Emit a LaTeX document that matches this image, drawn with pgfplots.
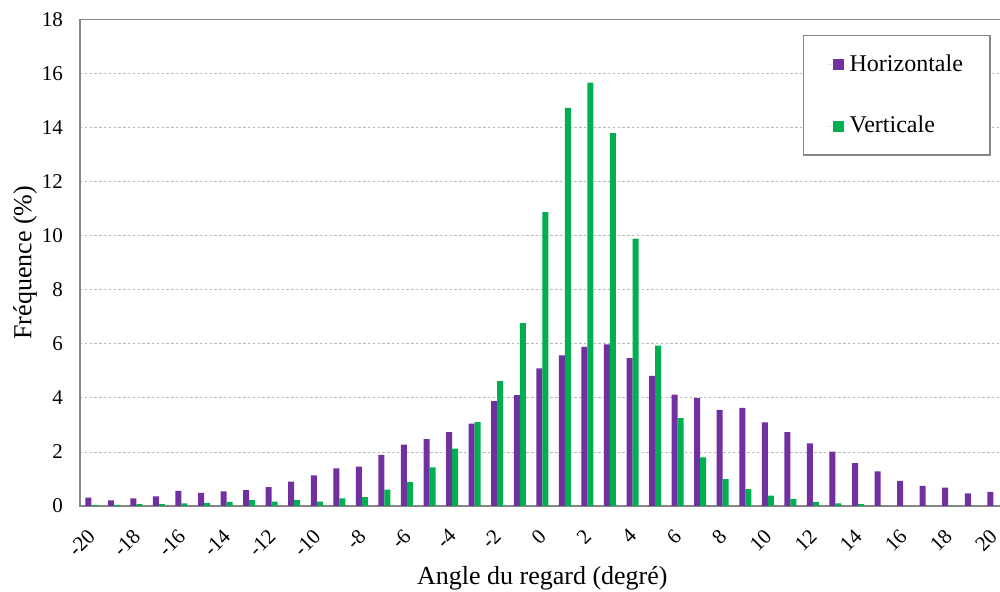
\documentclass[border=0pt]{standalone}
\usepackage{pgfplots}
\pgfplotsset{compat=1.18}
\usepackage{pgfplotstable}
\usepackage{fontspec}
\setmainfont{Liberation Serif}

\definecolor{horiz}{HTML}{7030A0}
\definecolor{vert}{HTML}{00B050}
\definecolor{axisgray}{HTML}{868686}

% angle, horizontale, verticale (%)
\pgfplotstableread{
x   h     v
-20 0.31  0.04
-19 0.21  0.04
-18 0.28  0.07
-17 0.36  0.07
-16 0.56  0.10
-15 0.49  0.12
-14 0.54  0.15
-13 0.59  0.22
-12 0.70  0.16
-11 0.90  0.23
-10 1.13  0.16
-9  1.39  0.28
-8  1.46  0.33
-7  1.89  0.61
-6  2.27  0.88
-5  2.47  1.43
-4  2.73  2.12
-3  3.05  3.10
-2  3.88  4.62
-1  4.10  6.77
0   5.09  10.87
1   5.57  14.73
2   5.89  15.66
3   5.98  13.80
4   5.47  9.89
5   4.81  5.93
6   4.12  3.25
7   3.99  1.80
8   3.56  0.99
9   3.63  0.62
10  3.09  0.38
11  2.73  0.26
12  2.32  0.15
13  2.01  0.10
14  1.59  0.07
15  1.28  0.01
16  0.93  0
17  0.74  0
18  0.68  0
19  0.47  0
20  0.52  0
}\gaze

\begin{document}
\begin{tikzpicture}
\useasboundingbox (0,0) rectangle (500pt,296pt);
\begin{axis}[
    at={(40pt,43pt)}, anchor=south west,
    scale only axis,
    width=462.3pt, height=243.25pt,
    ybar=0pt, bar width=3pt,
    xmin=-20.5, xmax=20.5,
    ymin=0, ymax=18,
    xtick={-20,-18,...,20},
    ytick={0,2,...,18},
    major tick length=0pt,
    axis line style={axisgray, line width=0.8pt},
    ymajorgrids,
    major grid style={axisgray!60, dash pattern=on 1.2pt off 1.2pt, line width=0.4pt},
    /pgf/number format/assume math mode=true,
    tick label style={font=\fontsize{10.5}{12}\selectfont},
    yticklabel style={xshift=-5pt},
    xticklabel style={rotate=45, anchor=north east, inner sep=0pt, xshift=-9.2pt, yshift=-5.8pt},
    xlabel={Angle du regard (degré)},
    ylabel={Fréquence (\%)},
    label style={font=\fontsize{13}{15}\selectfont},
    xlabel style={at={(axis description cs:0.5,0)}, anchor=center, yshift=-36pt},
    ylabel style={at={(axis description cs:0,0.5)}, anchor=center, yshift=27.5pt},
    legend style={at={(axis description cs:0.782,0.968)}, anchor=north west,
        draw=axisgray, line width=0.6pt, fill=white,
        font=\fontsize{12}{14}\selectfont,
        inner xsep=11.5pt, inner ysep=7.5pt, row sep=17pt},
    legend cell align=left,
    legend image code/.code={\fill[#1, draw=none] (0pt,-2.75pt) rectangle (5.5pt,2.75pt);
        \path (-3pt,0pt) -- (6.5pt,0pt);},
]
\addplot[fill=horiz, draw=none] table[x=x, y=h] {\gaze};
\addplot[fill=vert, draw=none] table[x=x, y=v] {\gaze};
\legend{Horizontale, Verticale}
\end{axis}
\end{tikzpicture}
\end{document}
